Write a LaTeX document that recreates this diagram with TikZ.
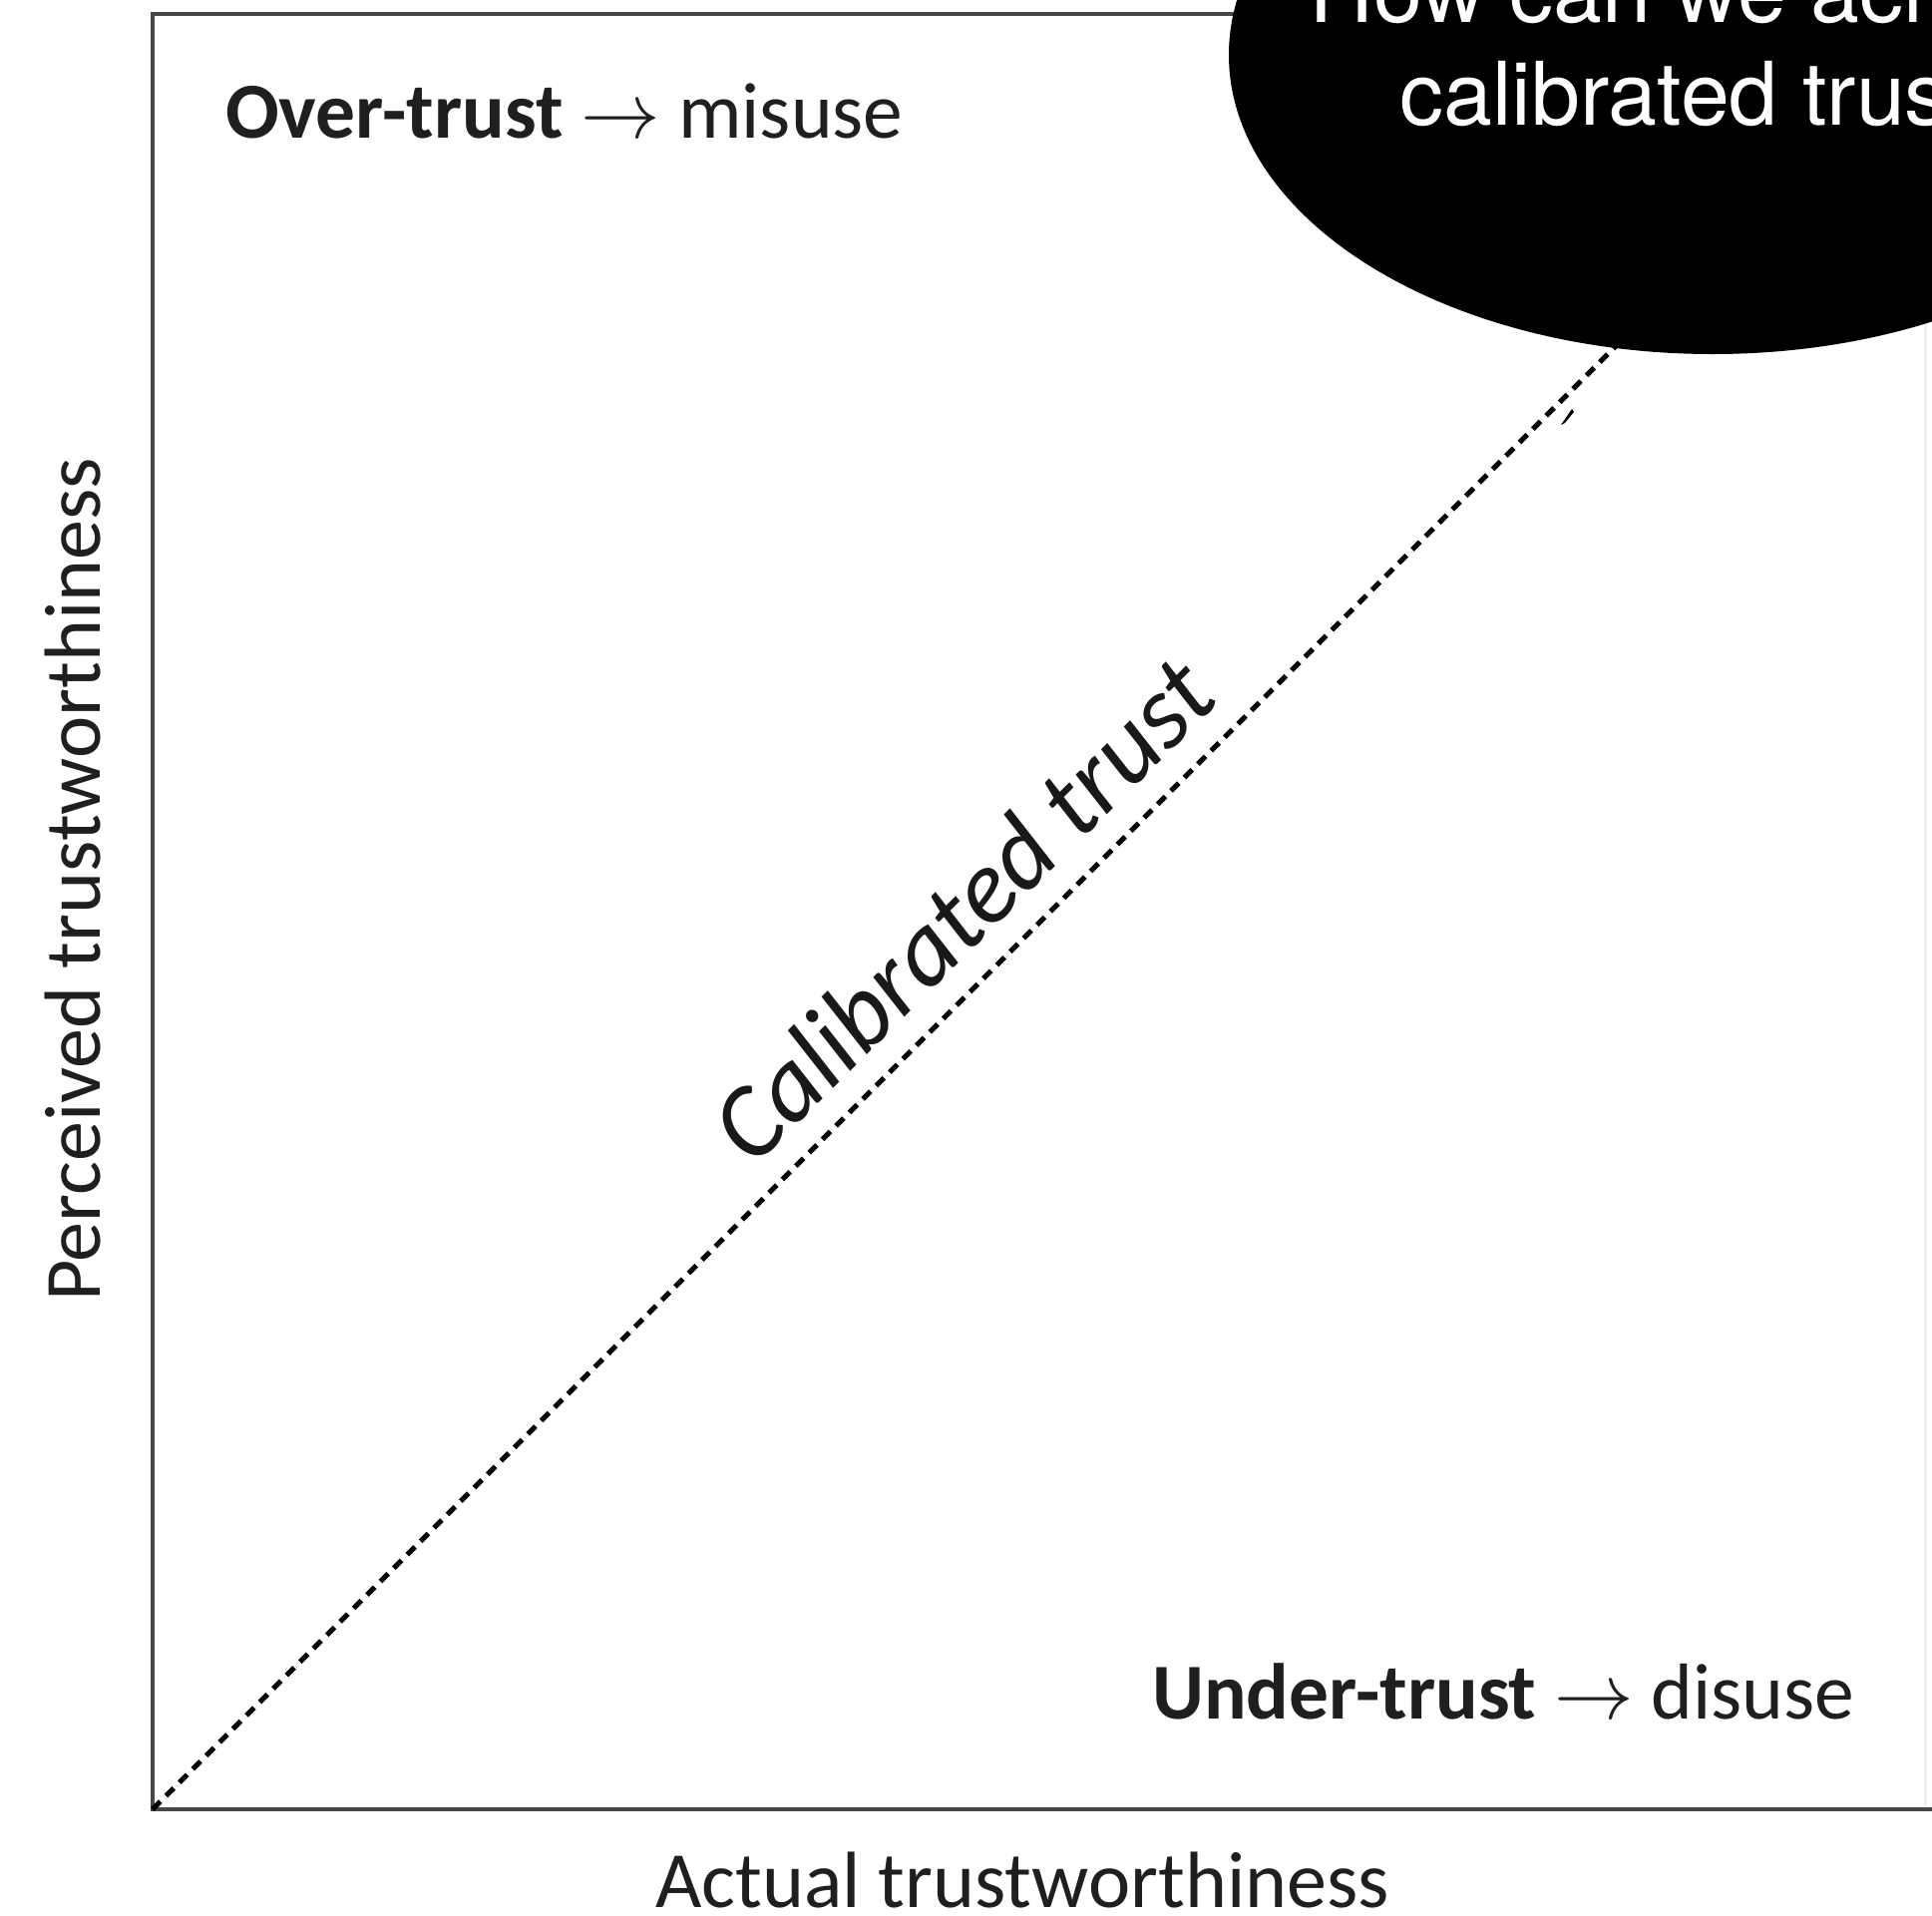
\RequirePackage{fix-cm}
\documentclass[tikz,border=0pt]{standalone}
\usepackage{fontspec}
\setmainfont{Carlito}
\newfontfamily\headfont{TeX Gyre Heros}
\usetikzlibrary{shapes.geometric}
\begin{document}
\begin{tikzpicture}[x=1pt,y=-1pt,
  frameline/.style={draw=black!72, line width=3.5pt},
  diag/.style={draw=black, line width=5pt, dash pattern=on 11pt off 8pt},
  zonelabel/.style={text=black!88, inner sep=0pt, font=\fontsize{79.5}{95}\selectfont},
  axislabel/.style={text=black!88, inner sep=0pt, font=\fontsize{80}{96}\selectfont},
  diaglabel/.style={text=black!90, inner sep=0pt, font=\fontsize{105}{126}\selectfont\itshape},
  bubble/.style={ellipse, fill=black, draw=none, inner sep=0pt},
  bubbletext/.style={text=white, inner sep=0pt, align=center,
    font=\headfont\fontsize{88}{103}\selectfont}]
  \useasboundingbox (0,0) rectangle (1937,1920);
  \clip (0,0) rectangle (1937,1920);
  \fill[white] (0,0) rectangle (1937,1920);

  % plot frame (square, right side runs past the page edge)
  \coordinate (origin) at (153,1814);
  \coordinate (topleft) at (153,14);
  \coordinate (topright) at (1953,14);
  \coordinate (botright) at (1953,1814);
  \draw[frameline] (topright) -- (topleft) -- (origin) -- (botright);
  \draw[black!6, line width=3pt] (1930,300) -- (1930,1810);

  % calibration diagonal
  \draw[diag] (origin) -- (topright);
  \node[diaglabel, rotate=45, anchor=base] (calib) at (990,937) {Calibrated trust};

  % zone labels
  \node[zonelabel, anchor=base west] (over) at (226,138)
    {\textbf{Over-trust} $\rightarrow$ misuse};
  \node[zonelabel, anchor=base west] (under) at (1155,1723)
    {\textbf{Under-trust} $\rightarrow$ disuse};

  % axis labels
  \node[axislabel, anchor=base] (xlab) at (1025,1912) {Actual trustworthiness};
  \node[axislabel, rotate=90, anchor=base] (ylab) at (100,882) {Perceived trustworthiness};

  % question bubble (base anchor sits on the last line)
  \node[bubble, minimum width=970pt, minimum height=600pt] (question) at (1717,55) {};
  \node[bubbletext, anchor=base] (qtext) at (1715,125) {How can we achieve\\calibrated trust?};

  % small stray marks beside the diagonal
  \fill[black] (1565,426) -- (1576,410) -- (1578,413) -- (1569,424) -- cycle;
  \fill[white] (466,1508) -- (476,1493) -- (478,1495) -- (469,1510) -- cycle;
\end{tikzpicture}
\end{document}
